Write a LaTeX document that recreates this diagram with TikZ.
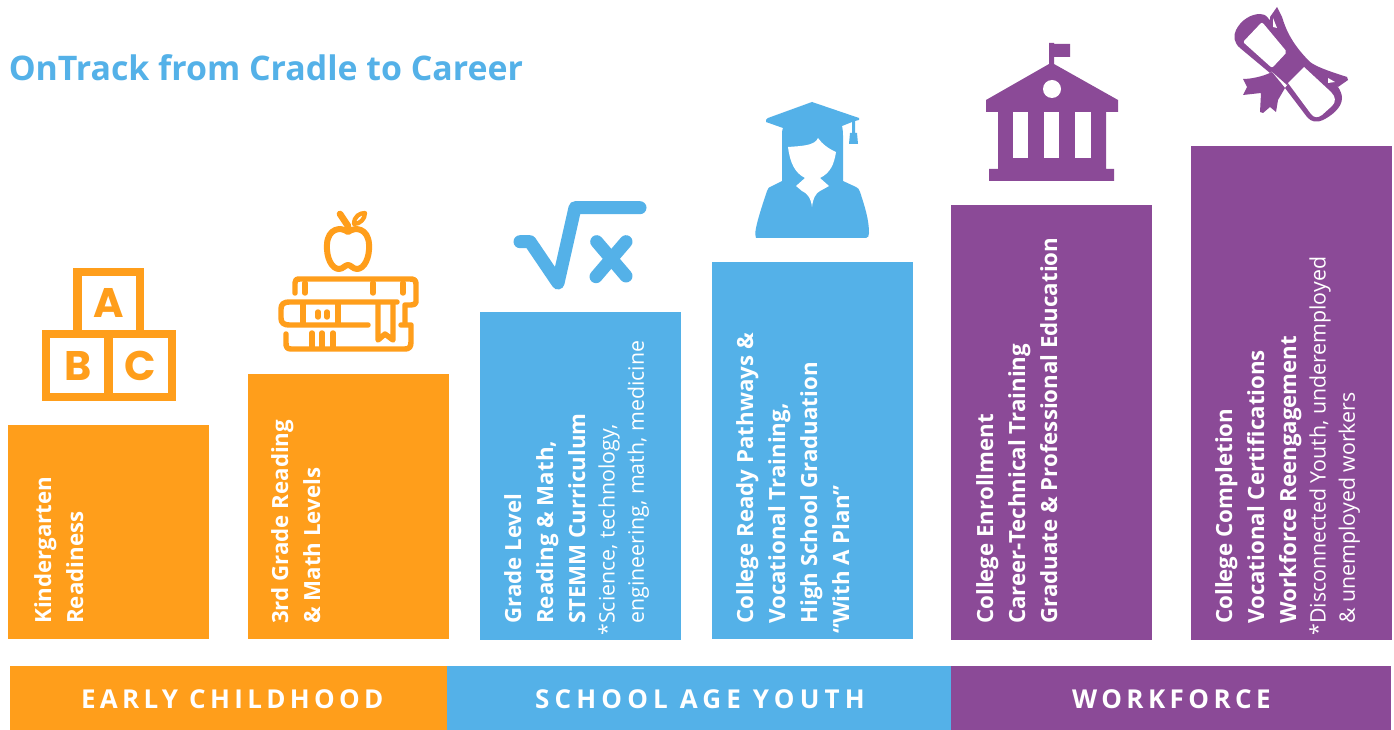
\documentclass[tikz,border=0pt]{standalone}
\usepackage{fontspec}
\setmainfont{Open Sans}
\newfontfamily\popf{Poppins}
\definecolor{org}{HTML}{FF9E1B}
\definecolor{blu}{HTML}{54B1E8}
\definecolor{pur}{HTML}{8B4A97}
\tikzset{
  band/.style={anchor=west,inner sep=0pt,outer sep=0pt,text=white,font=\fontsize{19.5}{22}\selectfont\bfseries},
  bartext/.style={anchor=north west,rotate=90,inner sep=0pt,text=white,align=left},
  big/.style={font=\fontsize{16.7}{24}\selectfont\bfseries},
  blockletter/.style={text=org,inner sep=0pt,font=\popf\fontsize{31}{31}\selectfont\bfseries}
}
\newcommand{\smalltxt}{\fontsize{16}{22.5}\selectfont\mdseries}
\begin{document}
\begin{tikzpicture}[x=0.75pt,y=-0.75pt]
\useasboundingbox (0,0) rectangle (1394,730);
\fill[white] (0,0) rectangle (1394,730);
\node[anchor=west,inner sep=0pt,text=blu,font=\fontsize{25.4}{28}\selectfont\bfseries] (title) at (8.5,68) {OnTrack from Cradle to Career};
% bars
\fill[org] (8,425) rectangle (209,639);
\fill[org] (248,374) rectangle (449,639);
\fill[blu] (480,312) rectangle (681,640);
\fill[blu] (712,262) rectangle (913,639);
\fill[pur] (951,205) rectangle (1152,640);
\fill[pur] (1191,146) rectangle (1392,640);
% bands
\fill[org] (10,666) rectangle (447,730);
\fill[blu] (447,666) rectangle (951,730);
\fill[pur] (951,666) rectangle (1391,730);
\node[band] (b1) at (81,699) {\addfontfeature{LetterSpace=16.7}EARLY CHILDHOOD};
\node[band] (b2) at (535,699) {\addfontfeature{LetterSpace=20}SCHOOL AGE YOUTH};
\node[band] (b3) at (1072,699) {\addfontfeature{LetterSpace=17}WORKFORCE};
% bar text
\node[bartext,big] (t1) at (34,624) {Kindergarten\\Readiness};
\node[bartext,big] (t2) at (271,624) {3rd Grade Reading\\\& Math Levels};
\node[bartext,big] (t3) at (504,624) {Grade Level\\Reading \& Math,\\STEMM Curriculum\\[-2pt]{\smalltxt\llap{*}Science, technology,}\\[-2pt]{\smalltxt engineering, math, medicine}};
\node[bartext,big] (t4) at (736,624) {College Ready Pathways \&\\Vocational Training,\\High School Graduation\\\llap{“}With A Plan”};
\node[bartext,big] (t5) at (976,624) {College Enrollment\\Career-Technical Training\\Graduate \& Professional Education};
\node[bartext,big] (t6) at (1215,624) {College Completion\\Vocational Certifications\\Workforce Reengagement\\[-2pt]{\smalltxt\llap{*}Disconnected Youth, underemployed}\\[-2pt]{\smalltxt \& unemployed workers}};
% ABC blocks
\begin{scope}[line width=6.5pt,line join=miter]
\draw[org] (77.5,272) rectangle (140,334);
\draw[org] (46,334) rectangle (172,397);
\draw[org] (108.7,334) -- (108.7,397);
\end{scope}
\node[blockletter] (la) at (109,303) {A};
\node[blockletter] (lb) at (78,366) {B};
\node[blockletter] (lc) at (140,366) {C};
% apple + books
\begin{scope}[line width=4.1pt,line cap=round,line join=round]
\draw[org,line width=5pt] (340,214) -- (348,226);
\draw[org,line width=3.2pt] (354,224) .. controls (354,216) and (360,213) .. (365,213) .. controls (365,219) and (360,224) .. (354,224) -- cycle;
\draw[org,line width=4.5pt] (348,232) .. controls (340,226) and (328,229) .. (327,244) .. controls (326,258) and (332,269) .. (339,269) .. controls (343,269) and (345,265) .. (348,265) .. controls (351,265) and (353,269) .. (357,269) .. controls (364,269) and (370,258) .. (369,244) .. controls (368,229) and (356,226) .. (348,232) -- cycle;
% top book
\draw[org] (295,293) -- (295,283) .. controls (295,280) and (296,279) .. (300,279) -- (410,279) .. controls (414,279) and (416,280) .. (416,284) -- (416,302) .. controls (416,304) and (414,305) .. (411,305) -- (405,305) -- (405,323);
\draw[org] (305,283) -- (305,293);
\draw[org] (373,283) -- (373,293);
\draw[org] (403,283) -- (403,293);
% mid book
\draw[org] (397,302) -- (289,302) .. controls (284,302) and (281,304) .. (281,309) -- (281,318) .. controls (281,323) and (284,325) .. (289,325) -- (368,325);
\draw[org] (303,304) -- (303,323);
\draw[org] (338,304) -- (338,323);
\draw[org] (318,312) -- (318,317);
\draw[org] (327,312) -- (327,317);
% bookmark
\draw[org] (378,304) -- (378,340) -- (385,334) -- (393,340) -- (393,304);
% lower
\draw[org] (401,325) -- (411,325) -- (411,342) .. controls (411,347) and (409,349) .. (405,349) -- (291,349) .. controls (287,349) and (286,347) .. (286,343) -- (286,334);
\draw[org] (312,333) -- (312,347);
\draw[org] (322,333) -- (322,347);
\draw[org] (333,333) -- (333,347);
\end{scope}
% sqrt x
\begin{scope}[line width=9.75pt,line cap=round,line join=round]
\draw[blu] (520,241.7) -- (530,241.7) -- (558,283) -- (575,207.7) -- (640,207.7);
\draw[blu] (596.7,241.7) -- (626,276);
\draw[blu] (626,241.7) -- (596,276.7);
\end{scope}
% graduate
\fill[blu] (756,238) .. controls (755,236) and (755,233) .. (756,228) .. controls (758,218) and (763,203) .. (767,191) .. controls (768,188) and (769,187) .. (772,186) -- (782,181) -- (782,134) .. controls (782,130) and (783,128) .. (783,128) -- (766,122) .. controls (766,120) and (766,119) .. (768,118) -- (812,102) -- (859,118) -- (859,120) -- (855,121) -- (855,133) -- (857,133) -- (858,144) -- (849,144) -- (850,133) -- (852,133) -- (852,122) -- (842,126) .. controls (843,130) and (843,134) .. (843,138) -- (843,181) -- (856,187) .. controls (858,188) and (859,189) .. (860,192) .. controls (865,207) and (869,220) .. (869,233) .. controls (869,236) and (868,238) .. (866,238) -- cycle;
\fill[white] (788,147) .. controls (800,146) and (815,146) .. (818,138) .. controls (822,144) and (829,149) .. (836,152) .. controls (834,165) and (830,173) .. (820,178) -- (829,186) -- (820,191) .. controls (816,193) and (813,198) .. (812,207) .. controls (811,198) and (807,193) .. (802,191) -- (796,186) -- (805,178) .. controls (795,173) and (790,163) .. (788,147) -- cycle;
% building
\fill[pur] (1049,43) -- (1054,43) -- (1054,44) -- (1070,44) -- (1070,57) -- (1054,57) -- (1054,64) -- (1118,100) -- (1118,112) -- (1106,112) -- (1106,169) -- (1114,169) -- (1114,181) -- (989,181) -- (989,169) -- (998,169) -- (998,112) -- (986,112) -- (986,100) -- (1049,64) -- cycle;
\fill[white] (1052,89) circle (9);
\fill[white] (1013,112) rectangle (1028,158);
\fill[white] (1044,112) rectangle (1059,158);
\fill[white] (1075,112) rectangle (1091,158);
% diploma: ribbons
\fill[pur] (1270,17) -- (1277,7) -- (1282,17) .. controls (1286,30) and (1292,44) .. (1310,62) .. controls (1318,68) and (1335,73) .. (1347,77) -- (1348,80) -- (1338,87) -- (1305,70) -- (1270,30) -- cycle;
\fill[pur] (1243,79) .. controls (1250,79) and (1262,77) .. (1272,72) -- (1285,88) -- (1278,100) -- (1276,112) -- (1270,107) -- (1263,113) -- (1260,112) -- (1261,93) -- (1243,95) -- (1247,87) -- cycle;
% diploma: rolls
\fill[pur] (1270,73) -- (1240,48) .. controls (1234,43) and (1233,36) .. (1236,30) .. controls (1241,20) and (1251,14) .. (1260,14) .. controls (1263,14) and (1266,15) .. (1268,18) -- (1295,50) -- cycle;
\fill[pur] (1285,88) -- (1307,117) .. controls (1311,122) and (1317,123) .. (1323,120) .. controls (1331,116) and (1342,108) .. (1342,98) .. controls (1342,94) and (1340,90) .. (1338,87) -- (1307,60) -- cycle;
\fill[pur] (1270,70) -- (1288,50) -- (1307,65) -- (1287,85) -- cycle;
\fill[white,rounded corners=1.5pt] (1243,42) -- (1262,22) -- (1287,52) -- (1272,68) -- cycle;
\fill[white] (1304,67) -- (1331,92) .. controls (1336,97) and (1336,102) .. (1332,106) -- (1322,115) .. controls (1318,118) and (1314,118) .. (1311,114) -- (1288,83) -- cycle;
\fill[white] (1273,18) -- (1277,28) -- (1273,27) -- cycle;
\fill[white] (1328,78) -- (1335,82) -- (1328,83) -- cycle;
\end{tikzpicture}
\end{document}
